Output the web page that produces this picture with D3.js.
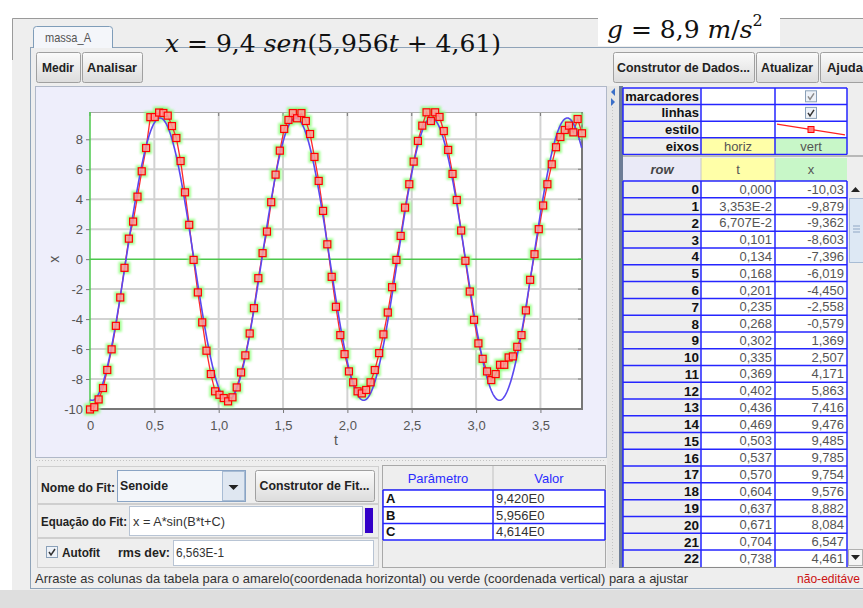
<!DOCTYPE html>
<html>
<head>
<meta charset="utf-8">
<script src="https://cdn.jsdelivr.net/npm/d3@7"></script>
<style>
body { margin: 0; background: #fff; }
svg { display: block; }
</style>
</head>
<body>
<script>
/* Data */
var tData = [0.000, 0.0335, 0.0671, 0.101, 0.134, 0.168, 0.201, 0.235, 0.268, 0.302,
	0.335, 0.369, 0.402, 0.436, 0.469, 0.503, 0.537, 0.570, 0.604, 0.637,
	0.671, 0.704, 0.738, 0.771, 0.805, 0.838, 0.872, 0.905, 0.939, 0.972,
	1.006, 1.039, 1.073, 1.107, 1.140, 1.174, 1.207, 1.241, 1.274, 1.308,
	1.341, 1.375, 1.408, 1.442, 1.475, 1.509, 1.542, 1.576, 1.609, 1.643,
	1.677, 1.710, 1.744, 1.777, 1.811, 1.844, 1.878, 1.911, 1.945, 1.978,
	2.012, 2.045, 2.079, 2.112, 2.146, 2.180, 2.213, 2.247, 2.280, 2.314,
	2.347, 2.381, 2.414, 2.448, 2.481, 2.515, 2.548, 2.582, 2.615, 2.649,
	2.682, 2.716, 2.749, 2.783, 2.817, 2.850, 2.884, 2.917, 2.951, 2.984,
	3.018, 3.051, 3.085, 3.118, 3.152, 3.186, 3.219, 3.253, 3.286, 3.320,
	3.353, 3.387, 3.420, 3.454, 3.487, 3.521, 3.554, 3.588, 3.621, 3.655,
	3.689, 3.722, 3.756, 3.789, 3.823];
var xData = [-10.03, -9.879, -9.362, -8.603, -7.396, -6.019, -4.450, -2.558, -0.579, 1.369,
	2.507, 4.171, 5.863, 7.416, 9.476, 9.485, 9.785, 9.754, 9.576, 8.882,
	8.084, 6.547, 4.461, 2.29, -0.05, -2.22, -4.22, -6.11, -7.67, -8.82,
	-9.05, -9.27, -9.49, -9.22, -8.56, -7.56, -6.42, -4.96, -3.27, -1.27,
	0.40, 1.84, 3.80, 5.64, 7.24, 8.69, 9.29, 9.75, 9.40, 9.75,
	9.22, 8.35, 6.82, 5.22, 3.22, 0.99, -1.18, -3.18, -5.07, -6.34,
	-7.49, -8.22, -8.82, -8.96, -8.73, -8.22, -7.40, -6.27, -5.02, -3.56,
	-1.87, -0.05, 1.55, 3.44, 5.00, 6.51, 7.89, 8.91, 9.80, 9.22,
	9.80, 9.49, 8.55, 7.29, 5.69, 3.95, 1.91, -0.11, -2.16, -4.05,
	-5.62, -6.65, -7.49, -8.07, -7.67, -7.05, -7.05, -6.56, -6.49, -5.85,
	-5.07, -3.42, -1.38, 0.33, 2.00, 3.58, 5.00, 6.33, 7.47, 8.15,
	8.62, 8.91, 8.46, 9.35, 8.40];

// table rows shown on the right
var tableT = ["0,000", "3,353E-2", "6,707E-2", "0,101", "0,134", "0,168", "0,201", "0,235",
	"0,268", "0,302", "0,335", "0,369", "0,402", "0,436", "0,469", "0,503", "0,537",
	"0,570", "0,604", "0,637", "0,671", "0,704", "0,738"];
var tableX = ["-10,03", "-9,879", "-9,362", "-8,603", "-7,396", "-6,019", "-4,450", "-2,558",
	"-0,579", "1,369", "2,507", "4,171", "5,863", "7,416", "9,476", "9,485", "9,785",
	"9,754", "9,576", "8,882", "8,084", "6,547", "4,461"];

// fit parameters
var fitNames = ["A", "B", "C"];
var fitValues = [9.420, 5.956, 4.614];
var fitText = ["9,420E0", "5,956E0", "4,614E0"];

var xTicks = [0, 0.5, 1, 1.5, 2, 2.5, 3, 3.5];
var yTicks = [-10, -8, -6, -4, -2, 0, 2, 4, 6, 8];
var headerRows = ["marcadores", "linhas", "estilo", "eixos"];

/* Display setup */
var W = 863, H = 608,
	ui = "'Liberation Sans', Arial, sans-serif",
	serif = "'DejaVu Serif', 'Liberation Serif', serif",
	svg = d3.select("body").append("svg").attr("width", W).attr("height", H),
	plot = {left: 90, top: 112, right: 582, bottom: 409};

var defs = svg.append("defs");
defs.append("filter").attr("id", "glow")
	.attr("x", "-50%").attr("y", "-50%").attr("width", "200%").attr("height", "200%")
	.append("feGaussianBlur").attr("stdDeviation", 1.2);
var btnGrad = defs.append("linearGradient").attr("id", "btn").attr("x1", 0).attr("y1", 0).attr("x2", 0).attr("y2", 1);
btnGrad.append("stop").attr("offset", "0%").attr("stop-color", "#fbfbfb");
btnGrad.append("stop").attr("offset", "100%").attr("stop-color", "#dcdcdc");

function text(g, x, y, s, opts) {
	opts = opts || {};
	var t = g.append("text")
		.attr("x", x).attr("y", y)
		.attr("font-family", opts.family || ui)
		.attr("font-size", opts.size || 13)
		.attr("font-weight", opts.bold ? "bold" : "normal")
		.attr("font-style", opts.italic ? "italic" : "normal")
		.attr("text-anchor", opts.anchor || "start")
		.attr("fill", opts.fill || "#222")
		.text(s);
	if (opts.len) t.attr("textLength", opts.len).attr("lengthAdjust", "spacingAndGlyphs");
	return t;
}

function button(g, x, y, w, h, label, len) {
	g.append("rect").attr("x", x + 0.5).attr("y", y + 0.5).attr("width", w).attr("height", h)
		.attr("rx", 2).attr("fill", "url(#btn)").attr("stroke", "#a0a0a0");
	text(g, x + w / 2, y + h / 2 + 4.5, label, {bold: true, anchor: "middle", size: 13, len: len});
}

/* Window frame */
svg.append("rect").attr("width", W).attr("height", H).attr("fill", "#eeeeee");
svg.append("rect").attr("width", W).attr("height", 18).attr("fill", "#fff");
svg.append("rect").attr("width", 12).attr("height", 590).attr("fill", "#fff");
svg.append("rect").attr("y", 590).attr("width", W).attr("height", 18).attr("fill", "#dedede");
svg.append("path").attr("d", "M12.5,60V18.5H863").attr("fill", "none").attr("stroke", "#9a9a9a");

// tab + panel border
svg.append("rect").attr("x", 30.5).attr("y", 47.5).attr("width", 840).attr("height", 541)
	.attr("fill", "#eeeeee").attr("stroke", "#8fa3b8");
svg.append("path").attr("d", "M33.5,48V29.5Q33.5,26.5 36.5,26.5H109.5Q112.5,26.5 112.5,29.5V48")
	.attr("fill", "#f4f6fa").attr("stroke", "#7f9db9");
text(svg, 45, 42, "massa_A", {fill: "#555", size: 13, len: 46});

// formulas written over the window
var f1 = svg.append("text").attr("x", 165).attr("y", 52)
	.attr("font-family", serif).attr("font-size", 25).attr("fill", "#111");
f1.append("tspan").attr("font-style", "italic").text("x");
f1.append("tspan").text(" = 9,4 ");
f1.append("tspan").attr("font-style", "italic").text("sen");
f1.append("tspan").text("(5,956");
f1.append("tspan").attr("font-style", "italic").text("t");
f1.append("tspan").text(" + 4,61)");

svg.append("rect").attr("x", 598).attr("y", 4).attr("width", 182).attr("height", 42).attr("fill", "#fff");
var f2 = svg.append("text").attr("x", 607).attr("y", 38)
	.attr("font-family", serif).attr("font-size", 25).attr("fill", "#111");
f2.append("tspan").attr("font-style", "italic").text("g");
f2.append("tspan").text(" = 8,9 ");
f2.append("tspan").attr("font-style", "italic").text("m");
f2.append("tspan").text("/");
f2.append("tspan").attr("font-style", "italic").text("s");
f2.append("tspan").attr("font-size", 16).attr("dy", -12).text("2");

/* Toolbar */
button(svg, 36, 52, 44, 30, "Medir", 32);
button(svg, 82, 52, 60, 30, "Analisar", 50);
button(svg, 613, 52, 141, 30, "Construtor de Dados...", 133);
button(svg, 756, 52, 62, 30, "Atualizar", 52);
button(svg, 820, 52, 50, 30, "Ajuda", 36);

/* Plot panel */
svg.append("rect").attr("x", 35.5).attr("y", 86.5).attr("width", 571).attr("height", 371)
	.attr("fill", "#eeeefb").attr("stroke", "#b0b8c8");

var x = d3.scaleLinear().domain([0, 3.823]).range([plot.left, plot.right]),
	y = d3.scaleLinear().domain([-10, 9.82]).range([plot.bottom, plot.top]),
	locale = d3.formatLocale({decimal: ",", thousands: ".", grouping: [3], currency: ["", ""]}),
	fmt1 = locale.format(".1f");

var pg = svg.append("g");
pg.append("rect").attr("x", plot.left).attr("y", plot.top)
	.attr("width", plot.right - plot.left).attr("height", plot.bottom - plot.top).attr("fill", "#fff");

// grid
pg.selectAll(".vgrid").data(xTicks.filter(function(d) { return d > 0; })).enter().append("line")
	.attr("x1", function(d) { return x(d); }).attr("x2", function(d) { return x(d); })
	.attr("y1", plot.top).attr("y2", plot.bottom)
	.attr("stroke", "#d2d2d2").attr("stroke-width", 2);
pg.selectAll(".hgrid").data(yTicks.filter(function(d) { return d !== 0 && d !== -10; })).enter().append("line")
	.attr("y1", function(d) { return y(d); }).attr("y2", function(d) { return y(d); })
	.attr("x1", plot.left).attr("x2", plot.right)
	.attr("stroke", "#d2d2d2").attr("stroke-width", 2);

// inner ticks on the right and top
pg.selectAll(".rtick").data(yTicks).enter().append("line")
	.attr("y1", function(d) { return y(d); }).attr("y2", function(d) { return y(d); })
	.attr("x1", plot.right - 4).attr("x2", plot.right).attr("stroke", "#777");
pg.selectAll(".ttick").data(xTicks).enter().append("line")
	.attr("x1", function(d) { return x(d); }).attr("x2", function(d) { return x(d); })
	.attr("y1", plot.top).attr("y2", plot.top + 4).attr("stroke", "#777");

// axes
var yAxis = pg.append("g").attr("transform", "translate(" + plot.left + ",0)")
	.call(d3.axisLeft(y).tickValues(yTicks).tickSize(4).tickPadding(3)
		.tickFormat(function(d) { return String(d); }));
var xAxis = pg.append("g").attr("transform", "translate(0," + plot.bottom + ")")
	.call(d3.axisBottom(x).tickValues(xTicks).tickSize(4).tickPadding(5)
		.tickFormat(function(d) { return d === 0 ? "0" : fmt1(d); }));
[yAxis, xAxis].forEach(function(a) {
	a.select(".domain").remove();
	a.selectAll(".tick line").attr("stroke", "#777");
	a.selectAll(".tick text").attr("fill", "#555").attr("font-size", 13).attr("font-family", ui);
});
xAxis.selectAll(".tick text").attr("dy", "0.95em");

// frame
pg.append("line").attr("x1", plot.left).attr("x2", plot.right).attr("y1", plot.top + 0.5).attr("y2", plot.top + 0.5)
	.attr("stroke", "#aaa");
pg.append("line").attr("x1", plot.right).attr("x2", plot.right).attr("y1", plot.top).attr("y2", plot.bottom + 1)
	.attr("stroke", "#777").attr("stroke-width", 2);
pg.append("line").attr("x1", plot.left).attr("x2", plot.right + 1).attr("y1", plot.bottom).attr("y2", plot.bottom)
	.attr("stroke", "#777").attr("stroke-width", 2);
pg.append("line").attr("x1", plot.left).attr("x2", plot.left).attr("y1", plot.top).attr("y2", plot.bottom)
	.attr("stroke", "#4cc84c").attr("stroke-width", 1.5);
pg.append("line").attr("x1", plot.left).attr("x2", plot.right).attr("y1", y(0)).attr("y2", y(0))
	.attr("stroke", "#4cc84c").attr("stroke-width", 1.5);

text(pg, 336, 445, "t", {fill: "#555", size: 14, anchor: "middle"});
text(pg, 0, 0, "x", {fill: "#555", size: 14, anchor: "middle"})
	.attr("transform", "translate(59," + y(0) + ") rotate(-90)");

// series
var points = tData.map(function(t, i) { return {t: t, v: xData[i]}; });

pg.append("g").attr("filter", "url(#glow)").selectAll("rect").data(points).enter().append("rect")
	.attr("x", function(d) { return x(d.t) - 6; }).attr("y", function(d) { return y(d.v) - 6; })
	.attr("width", 12).attr("height", 12).attr("fill", "#8dff7c").attr("opacity", 0.8);

pg.append("path").datum(points)
	.attr("d", d3.line().x(function(d) { return x(d.t); }).y(function(d) { return y(d.v); }))
	.attr("fill", "none").attr("stroke", "#ff2a2a").attr("stroke-width", 1.3);

var fitT = d3.range(0, x.domain()[1] + 0.0001, 0.004);
pg.append("path").datum(fitT)
	.attr("d", d3.line()
		.x(function(t) { return x(t); })
		.y(function(t) { return y(fitValues[0] * Math.sin(fitValues[1] * t + fitValues[2])); }))
	.attr("fill", "none").attr("stroke", "#5a48f0").attr("stroke-width", 1.6);

pg.append("g").selectAll("rect").data(points).enter().append("rect")
	.attr("x", function(d) { return x(d.t) - 3.5; }).attr("y", function(d) { return y(d.v) - 3.5; })
	.attr("width", 7).attr("height", 7).attr("fill", "#ff9a9a").attr("fill-opacity", 0.85)
	.attr("stroke", "#ff0000").attr("stroke-width", 1.2);

/* Splitters */
svg.append("line").attr("x1", 36).attr("x2", 606).attr("y1", 460.5).attr("y2", 460.5)
	.attr("stroke", "#c4c4c4").attr("stroke-dasharray", "1,2");
svg.append("rect").attr("x", 607).attr("y", 86).attr("width", 12).attr("height", 482).attr("fill", "#e6e6e6");
svg.append("line").attr("x1", 612.5).attr("x2", 612.5).attr("y1", 104).attr("y2", 566)
	.attr("stroke", "#c4c4c4").attr("stroke-dasharray", "1,2");
svg.append("path").attr("d", "M615,88L611,92L615,96Z").attr("fill", "#3a6fc8");
svg.append("path").attr("d", "M611,98L615,102L611,106Z").attr("fill", "#3a6fc8");

/* Data table */
var tg = svg.append("g"),
	cols = [623, 701, 775, 847],
	hdrTop = 88, hdrH = 16.6,
	rowTop = 181, rowH = 16.77, tableBottom = 567;

tg.append("rect").attr("x", 619).attr("y", 86).attr("width", 4).attr("height", 482).attr("fill", "#6d7d96");
tg.append("rect").attr("x", 623).attr("y", 86).attr("width", 240).attr("height", 482).attr("fill", "#eeeeee");

headerRows.forEach(function(name, i) {
	var top = hdrTop + i * hdrH;
	tg.append("rect").attr("x", cols[0]).attr("y", top).attr("width", cols[1] - cols[0]).attr("height", hdrH).attr("fill", "#eeeeee");
	tg.append("rect").attr("x", cols[1]).attr("y", top).attr("width", cols[2] - cols[1]).attr("height", hdrH)
		.attr("fill", name === "eixos" ? "#ffffa8" : "#fff");
	tg.append("rect").attr("x", cols[2]).attr("y", top).attr("width", cols[3] - cols[2]).attr("height", hdrH)
		.attr("fill", name === "eixos" ? "#c8f7c8" : "#fff");
	text(tg, cols[1] - 2, top + hdrH / 2 + 4.5, name, {bold: true, size: 13, anchor: "end", fill: "#111"});
});
// checkboxes
[0, 1].forEach(function(i) {
	var cx = (cols[2] + cols[3]) / 2, cy = hdrTop + i * hdrH + hdrH / 2;
	tg.append("rect").attr("x", cx - 5.5).attr("y", cy - 5.5).attr("width", 11).attr("height", 11)
		.attr("fill", "#eef2f8").attr("stroke", "#8aa0b8");
	tg.append("path").attr("d", "M" + (cx - 3) + "," + cy + "l2,3l4,-6")
		.attr("fill", "none").attr("stroke", i === 0 ? "#8a8a8a" : "#333").attr("stroke-width", 1.5);
});
// style sample
(function() {
	var top = hdrTop + 2 * hdrH;
	tg.append("line").attr("x1", cols[2] + 2).attr("x2", cols[3] - 2).attr("y1", top + 3).attr("y2", top + hdrH - 3)
		.attr("stroke", "#ff2020").attr("stroke-width", 1.2);
	tg.append("rect").attr("x", (cols[2] + cols[3]) / 2 - 3).attr("y", top + hdrH / 2 - 3)
		.attr("width", 6).attr("height", 6).attr("fill", "#ff8080").attr("stroke", "#ff0000");
})();
text(tg, (cols[1] + cols[2]) / 2, hdrTop + 3 * hdrH + hdrH / 2 + 4.5, "horiz", {anchor: "middle", fill: "#555"});
text(tg, (cols[2] + cols[3]) / 2, hdrTop + 3 * hdrH + hdrH / 2 + 4.5, "vert", {anchor: "middle", fill: "#555"});
for (var i = 0; i <= 4; i++) {
	tg.append("line").attr("x1", cols[0]).attr("x2", cols[3]).attr("y1", hdrTop + i * hdrH).attr("y2", hdrTop + i * hdrH)
		.attr("stroke", "#2525ff").attr("stroke-width", 1.5);
}
cols.forEach(function(c) {
	tg.append("line").attr("x1", c).attr("x2", c).attr("y1", hdrTop).attr("y2", hdrTop + 4 * hdrH)
		.attr("stroke", "#2525ff").attr("stroke-width", 1.5);
});
tg.append("line").attr("x1", cols[0]).attr("x2", 863).attr("y1", 156).attr("y2", 156)
	.attr("stroke", "#b8b8b8").attr("stroke-width", 2);

// column header
tg.append("rect").attr("x", cols[0]).attr("y", 158).attr("width", cols[1] - cols[0]).attr("height", rowTop - 158).attr("fill", "#eaeaf7");
tg.append("rect").attr("x", cols[1]).attr("y", 158).attr("width", cols[2] - cols[1]).attr("height", rowTop - 158).attr("fill", "#ffffa8");
tg.append("rect").attr("x", cols[2]).attr("y", 158).attr("width", cols[3] - cols[2]).attr("height", rowTop - 158).attr("fill", "#c8f7c8");
text(tg, (cols[0] + cols[1]) / 2, 174, "row", {bold: true, italic: true, size: 13, anchor: "middle", fill: "#444"});
text(tg, (cols[1] + cols[2]) / 2, 174, "t", {anchor: "middle", fill: "#555"});
text(tg, (cols[2] + cols[3]) / 2, 174, "x", {anchor: "middle", fill: "#555"});
[cols[1], cols[2]].forEach(function(c) {
	tg.append("line").attr("x1", c).attr("x2", c).attr("y1", 158).attr("y2", rowTop).attr("stroke", "#c8c8c8");
});

// rows
defs.append("clipPath").attr("id", "rowsClip").append("rect")
	.attr("x", cols[0] - 2).attr("y", rowTop - 1).attr("width", 240).attr("height", tableBottom - rowTop + 1);
var rows = tg.append("g").attr("clip-path", "url(#rowsClip)");
tableT.forEach(function(tv, i) {
	var top = rowTop + i * rowH;
	rows.append("rect").attr("x", cols[0]).attr("y", top).attr("width", cols[1] - cols[0]).attr("height", rowH).attr("fill", "#eeeeee");
	rows.append("rect").attr("x", cols[1]).attr("y", top).attr("width", cols[3] - cols[1]).attr("height", rowH).attr("fill", "#fff");
	text(rows, cols[1] - 2, top + rowH / 2 + 5, String(i), {bold: true, size: 13.5, anchor: "end", fill: "#111"});
	text(rows, cols[2] - 3, top + rowH / 2 + 4.5, tv, {anchor: "end", fill: "#555"});
	text(rows, cols[3] - 3, top + rowH / 2 + 4.5, tableX[i], {anchor: "end", fill: "#555"});
	rows.append("line").attr("x1", cols[0]).attr("x2", cols[3]).attr("y1", top).attr("y2", top)
		.attr("stroke", "#2525ff").attr("stroke-width", 1.5);
});
cols.forEach(function(c) {
	rows.append("line").attr("x1", c).attr("x2", c).attr("y1", rowTop).attr("y2", tableBottom)
		.attr("stroke", "#2525ff").attr("stroke-width", 1.5);
});
tg.append("line").attr("x1", cols[0]).attr("x2", 863).attr("y1", tableBottom + 0.5).attr("y2", tableBottom + 0.5)
	.attr("stroke", "#8a8a8a");

// scrollbar
tg.append("rect").attr("x", 848).attr("y", rowTop).attr("width", 15).attr("height", tableBottom - rowTop).attr("fill", "#eeeeee");
tg.append("path").attr("d", "M851,192L855.5,187L860,192Z").attr("fill", "#222");
tg.append("rect").attr("x", 849.5).attr("y", 198.5).attr("width", 14).attr("height", 64)
	.attr("fill", "#dde8f4").attr("stroke", "#a8bcd4");
[226, 229, 232].forEach(function(yy) {
	tg.append("line").attr("x1", 853).attr("x2", 860).attr("y1", yy).attr("y2", yy).attr("stroke", "#8fa6c4");
});
tg.append("rect").attr("x", 848.5).attr("y", 549.5).attr("width", 14).attr("height", 16)
	.attr("fill", "#f4f4f4").attr("stroke", "#b0b0b0");
tg.append("path").attr("d", "M851,555L860,555L855.5,560Z").attr("fill", "#222");

/* Fit panel */
var fg = svg.append("g");
[[37, 466, 341, 37], [37, 504, 341, 33], [37, 538, 341, 29]].forEach(function(b) {
	fg.append("rect").attr("x", b[0] + 0.5).attr("y", b[1] + 0.5).attr("width", b[2]).attr("height", b[3])
		.attr("fill", "#eeeeee").attr("stroke", "#cfcfcf");
});
text(fg, 41, 492, "Nome do Fit:", {bold: true, len: 74});
fg.append("rect").attr("x", 117.5).attr("y", 470.5).attr("width", 128).attr("height", 31)
	.attr("fill", "#f3f6fa").attr("stroke", "#8aa4c4");
text(fg, 120, 490, "Senoide", {bold: true, len: 48});
fg.append("rect").attr("x", 222.5).attr("y", 471.5).attr("width", 22).attr("height", 29)
	.attr("fill", "#dfe7f1").attr("stroke", "#a8bcd4");
fg.append("path").attr("d", "M228.5,485L238.5,485L233.5,490Z").attr("fill", "#222");
button(fg, 255, 470, 119, 31, "Construtor de Fit...", 110);

text(fg, 41, 526, "Equação do Fit:", {bold: true, len: 86});
fg.append("rect").attr("x", 129.5).attr("y", 506.5).attr("width", 233).attr("height", 29)
	.attr("fill", "#fff").attr("stroke", "#b8c4d4");
text(fg, 133, 526, "x = A*sin(B*t+C)", {fill: "#333", len: 92});
fg.append("rect").attr("x", 365).attr("y", 508).attr("width", 8).attr("height", 25).attr("fill", "#3300c8");

fg.append("rect").attr("x", 46.5).attr("y", 546.5).attr("width", 11).attr("height", 11)
	.attr("fill", "#eef2f8").attr("stroke", "#8aa0b8");
fg.append("path").attr("d", "M49,552l2,3l4,-6").attr("fill", "none").attr("stroke", "#333").attr("stroke-width", 1.5);
text(fg, 62, 557, "Autofit", {bold: true, len: 38});
text(fg, 118, 557, "rms dev:", {bold: true, len: 52});
fg.append("rect").attr("x", 173.5).attr("y", 540.5).attr("width", 200).attr("height", 25)
	.attr("fill", "#fff").attr("stroke", "#b8c4d4");
text(fg, 176, 557, "6,563E-1", {fill: "#333", len: 48});

// parameter table
var pcols = [383, 493, 605], pTop = 490, pH = 16.7;
fg.append("rect").attr("x", 382.5).attr("y", 465.5).attr("width", 223).attr("height", 102)
	.attr("fill", "#eeeeee").attr("stroke", "#a8a8a8");
fg.append("line").attr("x1", pcols[1]).attr("x2", pcols[1]).attr("y1", 466).attr("y2", pTop).attr("stroke", "#c0c0c0");
fg.append("line").attr("x1", 383).attr("x2", 605).attr("y1", pTop - 0.5).attr("y2", pTop - 0.5).attr("stroke", "#c0c0c0");
text(fg, (pcols[0] + pcols[1]) / 2, 483, "Parâmetro", {anchor: "middle", fill: "#2b2bff"});
text(fg, (pcols[1] + pcols[2]) / 2, 483, "Valor", {anchor: "middle", fill: "#2b2bff"});
fitNames.forEach(function(n, i) {
	var top = pTop + i * pH;
	fg.append("rect").attr("x", pcols[0]).attr("y", top).attr("width", pcols[2] - pcols[0]).attr("height", pH).attr("fill", "#fff");
	text(fg, pcols[0] + 3, top + 13, n, {bold: true, fill: "#111"});
	text(fg, pcols[1] + 3, top + 13, fitText[i], {fill: "#333"});
});
for (var j = 0; j <= 3; j++) {
	fg.append("line").attr("x1", pcols[0]).attr("x2", pcols[2]).attr("y1", pTop + j * pH).attr("y2", pTop + j * pH)
		.attr("stroke", "#2525ff").attr("stroke-width", 1.5);
}
pcols.forEach(function(c) {
	fg.append("line").attr("x1", c).attr("x2", c).attr("y1", pTop).attr("y2", pTop + 3 * pH)
		.attr("stroke", "#2525ff").attr("stroke-width", 1.5);
});

/* Status bar */
text(svg, 35, 583, "Arraste as colunas da tabela para o amarelo(coordenada horizontal) ou verde (coordenada vertical) para a ajustar",
	{fill: "#333", size: 13, len: 653});
text(svg, 797, 583, "não-editáve", {fill: "#cc1111", size: 12.5, len: 63});
</script>
</body>
</html>
